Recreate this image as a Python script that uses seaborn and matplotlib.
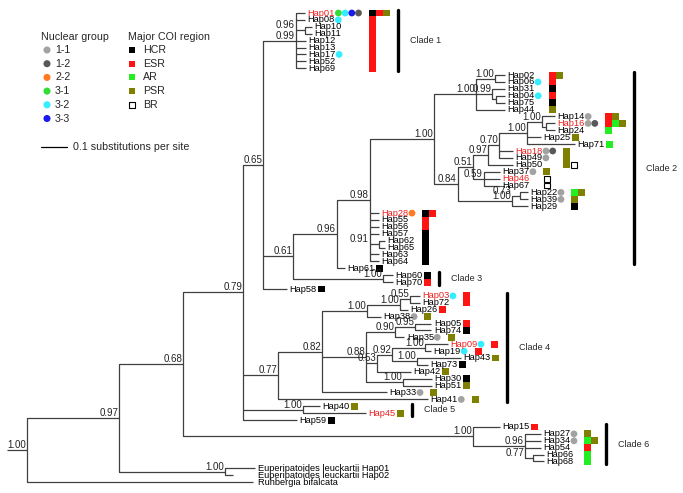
import matplotlib
matplotlib.use("Agg")
import matplotlib.pyplot as plt
import pandas as pd
import seaborn as sns

# Bayesian tree, branch lengths in substitutions per site, node labels = posterior support
TREE = (
    "((((((Hap01:0.035,Hap08:0.035,(Hap10:0.027,Hap11:0.027)0.96:0.035,Hap12:0.038,Hap13:0.038,"
    "Hap17:0.038,Hap52:0.038,Hap69:0.038)0.99:0.127,"
    "((((((Hap02:0.038,Hap06:0.038)1.00:0.073,(Hap31:0.050,(Hap04:0.035,Hap75:0.035):0.015)0.99:0.062,"
    "Hap44:0.112)1.00:0.162,"
    "((((((Hap14:0.050,(Hap16:0.035,Hap24:0.035):0.015)1.00:0.058,Hap25:0.054,Hap71:0.185)1.00:0.108,"
    "Hap18:0.054,Hap49:0.054)0.70:0.042,Hap50:0.096)0.97:0.058,"
    "(Hap37:0.062,Hap46:0.062,Hap67:0.062)0.59:0.042)0.51:0.058,"
    "((Hap22:0.031,Hap39:0.031)0.73:0.031,Hap29:0.062)1.00:0.208)0.84:0.092)1.00:0.246,"
    "Hap28:0.035,Hap55:0.035,Hap56:0.035,Hap57:0.035,(Hap62:0.023,Hap65:0.023)0.91:0.035,"
    "Hap63:0.035,Hap64:0.035)0.98:0.127,Hap61:0.031)0.96:0.169,"
    "(Hap60:0.038,Hap70:0.038)1.00:0.346)0.61:0.115,Hap58:0.092)0.65:0.077,"
    "(((((Hap03:0.038,Hap72:0.038)0.55:0.038,Hap26:0.031)1.00:0.127,Hap38:0.054)1.00:0.173,"
    "(((Hap05:0.062,Hap74:0.062)0.95:0.077,Hap35:0.035)0.90:0.112,"
    "(((Hap09:0.088,Hap19:0.023)1.00:0.127,(Hap43:0.169,Hap73:0.042)1.00:0.096)0.92:0.058,"
    "Hap42:0.131)0.53:0.042,(Hap30:0.112,Hap51:0.112)1.00:0.142)0.88:0.169,"
    "Hap33:0.250)0.82:0.169,Hap41:0.577)0.77:0.135,"
    "(Hap40:0.065,Hap45:0.242)1.00:0.231,Hap59:0.208)0.79:0.231,"
    "(Hap15:0.104,(Hap27:0.062,Hap34:0.062,Hap54:0.062,(Hap66:0.042,Hap68:0.042)0.77:0.031)0.96:0.200)"
    "1.00:1.115)0.68:0.246,"
    "(Euperipatoides_leuckartii_Hap01:0.115,Euperipatoides_leuckartii_Hap02:0.031)1.00:0.408)0.97:0.354,"
    "Ruhbergia_bifalcata:0.869)1.00:0.077;"
)

# outgroup names are written in one aligned column
OUTGROUP = ["Euperipatoides_leuckartii_Hap01", "Euperipatoides_leuckartii_Hap02", "Ruhbergia_bifalcata"]

RED_LABELS = ["Hap01", "Hap16", "Hap18", "Hap46", "Hap28", "Hap03", "Hap09", "Hap45"]

NUCLEAR = {
    "Hap01": ["3-1", "3-2", "3-3", "1-2"], "Hap08": ["3-2"], "Hap17": ["3-2"],
    "Hap06": ["3-2"], "Hap04": ["3-2"], "Hap14": ["1-1"], "Hap16": ["1-1", "1-2"],
    "Hap18": ["1-1", "1-2"], "Hap49": ["1-1"], "Hap37": ["1-1"], "Hap22": ["1-1"],
    "Hap39": ["1-1"], "Hap28": ["2-2"], "Hap03": ["3-2"], "Hap38": ["1-1"],
    "Hap35": ["1-1"], "Hap09": ["3-2"], "Hap19": ["3-2"], "Hap33": ["1-1"],
    "Hap41": ["1-1"], "Hap27": ["1-1"], "Hap34": ["1-1"],
}

COI = {
    "Hap01": ["HCR", "ESR", "PSR"], "Hap08": ["ESR"], "Hap10": ["ESR"], "Hap11": ["ESR"],
    "Hap12": ["ESR"], "Hap13": ["ESR"], "Hap17": ["ESR"], "Hap52": ["ESR"], "Hap69": ["ESR"],
    "Hap02": ["ESR", "PSR"], "Hap06": ["ESR"], "Hap31": ["HCR"], "Hap04": ["ESR"],
    "Hap75": ["HCR"], "Hap44": ["PSR"],
    "Hap14": ["ESR", "PSR"], "Hap16": ["ESR", "AR", "PSR"], "Hap24": ["AR"],
    "Hap25": ["PSR"], "Hap71": ["AR"],
    "Hap18": ["PSR"], "Hap49": ["PSR"], "Hap50": ["PSR", "BR"],
    "Hap37": ["PSR"], "Hap46": ["BR"], "Hap67": ["BR"],
    "Hap22": ["AR", "PSR"], "Hap39": ["PSR"], "Hap29": ["HCR"],
    "Hap28": ["HCR", "ESR"], "Hap55": ["ESR"], "Hap56": ["ESR"], "Hap57": ["HCR"],
    "Hap62": ["HCR"], "Hap65": ["HCR"], "Hap63": ["HCR"], "Hap64": ["HCR"],
    "Hap61": ["HCR"], "Hap60": ["HCR"], "Hap70": ["ESR"], "Hap58": ["HCR"],
    "Hap03": ["ESR"], "Hap72": ["ESR"], "Hap26": ["ESR"], "Hap38": ["PSR"],
    "Hap05": ["ESR"], "Hap74": ["HCR"], "Hap35": ["PSR"], "Hap09": ["ESR"],
    "Hap19": ["ESR"], "Hap43": ["PSR"], "Hap73": ["HCR"], "Hap42": ["PSR"],
    "Hap30": ["HCR"], "Hap51": ["PSR"], "Hap33": ["PSR"], "Hap41": ["PSR"],
    "Hap40": ["PSR"], "Hap45": ["PSR"], "Hap59": ["HCR"],
    "Hap15": ["ESR"], "Hap27": ["PSR"], "Hap34": ["AR", "PSR"], "Hap54": ["ESR"],
    "Hap66": ["AR"], "Hap68": ["AR"],
}

# tips whose COI boxes share one column
COI_GROUPS = [
    ["Hap01", "Hap08", "Hap10", "Hap11", "Hap12", "Hap13", "Hap17", "Hap52", "Hap69"],
    ["Hap02", "Hap06", "Hap31", "Hap04", "Hap75", "Hap44"],
    ["Hap14", "Hap16", "Hap24"],
    ["Hap18", "Hap49", "Hap50"],
    ["Hap37", "Hap46", "Hap67"],
    ["Hap22", "Hap39", "Hap29"],
    ["Hap28", "Hap55", "Hap56", "Hap57", "Hap62", "Hap65", "Hap63", "Hap64"],
    ["Hap60", "Hap70"],
    ["Hap03", "Hap72"],
    ["Hap05", "Hap74"],
    ["Hap30", "Hap51"],
    ["Hap27", "Hap34", "Hap54", "Hap66", "Hap68"],
]

CLADES = [("Clade 1", "Hap01", "Hap69"), ("Clade 2", "Hap02", "Hap64"),
          ("Clade 3", "Hap60", "Hap70"), ("Clade 4", "Hap03", "Hap41"),
          ("Clade 5", "Hap40", "Hap45"), ("Clade 6", "Hap15", "Hap68")]

NUC_GROUPS = ["1-1", "1-2", "2-2", "3-1", "3-2", "3-3"]
NUC_COLORS = {"1-1": "#a2a2a2", "1-2": "#585858", "2-2": "#ff7a22", "3-1": "#33dd33",
              "3-2": "#33eeff", "3-3": "#1a1aee"}
COI_REGIONS = ["HCR", "ESR", "AR", "PSR", "BR"]
COI_COLORS = {"HCR": "#000000", "ESR": "#ff1414", "AR": "#22ee22", "PSR": "#7f7f00", "BR": "#ffffff"}

PX = 1 / 260.0   # substitutions per pixel (0.1 subs = 26 px)
ROW = 6.9        # pixels per tip row


def parse_newick(s):
    pos = 0

    def node():
        nonlocal pos
        n = {"children": [], "name": "", "length": 0.0}
        if s[pos] == "(":
            pos += 1
            while True:
                n["children"].append(node())
                if s[pos] == ",":
                    pos += 1
                    continue
                pos += 1
                break
        start = pos
        while s[pos] not in ",():;":
            pos += 1
        n["name"] = s[start:pos]
        if s[pos] == ":":
            pos += 1
            start = pos
            while s[pos] not in ",();":
                pos += 1
            n["length"] = float(s[start:pos])
        return n

    return node()


tips = []
nodes = []


def layout(n, x0):
    n["x0"] = x0
    n["x"] = x0 + n["length"]
    nodes.append(n)
    if n["children"]:
        for c in n["children"]:
            layout(c, n["x"])
        n["y"] = (n["children"][0]["y"] + n["children"][-1]["y"]) / 2
    else:
        n["y"] = len(tips)
        tips.append(n)


root = parse_newick(TREE)
layout(root, 0.0)
tip_by_name = {t["name"]: t for t in tips}

sns.set_theme(style="white")
plt.rcParams["font.family"] = ["Liberation Sans", "DejaVu Sans"]

fig = plt.figure(figsize=(6.83, 4.93), dpi=100)
ax = fig.add_axes([0, 0, 1, 1])
renderer = fig.canvas.get_renderer()


def dy(px):
    return px / ROW


# branches
xs, ys = [], []
for n in nodes:
    xs += [n["x0"], n["x"], None]
    ys += [n["y"], n["y"], None]
    if n["children"]:
        xs += [n["x"], n["x"], None]
        ys += [n["children"][0]["y"], n["children"][-1]["y"], None]
ax.plot(xs, ys, color="#404040", lw=0.9, solid_capstyle="butt")

# support values
for n in nodes:
    if n["children"] and n["name"]:
        xr = n["x0"] if n["length"] < 9.5 * PX else n["x"]
        ax.text(xr - 1 * PX, n["y"] - dy(2), n["name"], fontsize=7, ha="right",
                va="baseline", color="#222222")

# tip labels
out_x = max(tip_by_name[o]["x"] for o in OUTGROUP)
label_end = {}
for t in tips:
    name = t["name"].replace("_", " ")
    color = "#ee2020" if t["name"] in RED_LABELS else "black"
    x_lab = (out_x if t["name"] in OUTGROUP else t["x"]) + 2.5 * PX
    txt = ax.text(x_lab, t["y"], name, fontsize=6.7, ha="left", va="center", color=color)
    w = txt.get_window_extent(renderer).width
    label_end[t["name"]] = x_lab + w * PX

# nuclear group circles
rows = []
for tip, groups in NUCLEAR.items():
    for j, g in enumerate(groups):
        rows.append({"x": label_end[tip] + (3.3 + 6.7 * j) * PX, "y": tip_by_name[tip]["y"], "group": g})
circles = pd.DataFrame(rows)
sns.scatterplot(data=circles, x="x", y="y", hue="group", palette=NUC_COLORS, s=24,
                linewidth=0, legend=False, ax=ax)

# COI region boxes
groups = [g for g in COI_GROUPS]
grouped = {t for g in COI_GROUPS for t in g}
groups += [[t] for t in COI if t not in grouped]
box_right = {}
bx, by, bc = [], [], []
for g in groups:
    right = 0
    has_circ = False
    for t in g:
        nc = len(NUCLEAR.get(t, []))
        has_circ = has_circ or nc > 0
        right = max(right, label_end[t] + nc * 6.7 * PX)
    col = right + (7 if has_circ else 1.5) * PX
    for t in g:
        for j, reg in enumerate(COI[t]):
            bx.append(col + 7 * j * PX)
            by.append(tip_by_name[t]["y"])
            bc.append(reg)
        box_right[t] = col + 7 * len(COI[t]) * PX
boxes = pd.DataFrame({"left": bx, "y": by, "region": bc})
solid = boxes[boxes.region != "BR"]
ax.barh(solid["y"], 7 * PX, left=solid["left"], height=1.0,
        color=[COI_COLORS[r] for r in solid["region"]], edgecolor="none", linewidth=0)
open_ = boxes[boxes.region == "BR"]
ax.barh(open_["y"], 6 * PX, left=open_["left"] + 0.5 * PX, height=0.85,
        color="white", edgecolor="black", linewidth=0.8)

# clade bars
for label, first, last in CLADES:
    r0, r1 = tip_by_name[first]["y"], tip_by_name[last]["y"]
    members = [t["name"] for t in tips if r0 <= t["y"] <= r1]
    right = max(box_right.get(m, label_end[m]) for m in members)
    xb = right + 8 * PX
    ax.plot([xb, xb], [r0 - 0.4, r1 + 0.4], color="black", lw=2.4, solid_capstyle="round")
    ax.text(xb + 12 * PX, (r0 + r1) / 2, label, fontsize=6.5, ha="left", va="center")


# legend (pixel layout converted to data)
def lx(p):
    return (p - 7) * PX


def ly(p):
    return (p - 13) / ROW


ax.text(lx(41), ly(37), "Nuclear group", fontsize=7.7, va="center")
ax.text(lx(128), ly(37), "Major COI region", fontsize=7.7, va="center")
leg_c = pd.DataFrame({"x": [lx(47)] * len(NUC_GROUPS),
                      "y": [ly(50 + 13.7 * i) for i in range(len(NUC_GROUPS))],
                      "group": NUC_GROUPS})
sns.scatterplot(data=leg_c, x="x", y="y", hue="group", palette=NUC_COLORS, s=26,
                linewidth=0, legend=False, ax=ax)
for i, g in enumerate(NUC_GROUPS):
    ax.text(lx(55), ly(50 + 13.7 * i), g, fontsize=7.7, va="center")
for i, r in enumerate(COI_REGIONS):
    ax.scatter(lx(132), ly(50 + 13.7 * i), marker="s", s=24, color=COI_COLORS[r],
               edgecolor="black", linewidth=0.8 if r == "BR" else 0)
    ax.text(lx(143), ly(50 + 13.7 * i), r, fontsize=7.7, va="center")
ax.plot([lx(41), lx(41) + 0.1], [ly(147), ly(147)], color="black", lw=0.9)
ax.text(lx(73), ly(147), "0.1 substitutions per site", fontsize=7.7, va="center")

ax.set_xlim(-7 * PX, 676 * PX)
ax.set_ylim((493 - 13) / ROW, -13 / ROW)
ax.axis("off")
fig.savefig("out.png", dpi=100)
